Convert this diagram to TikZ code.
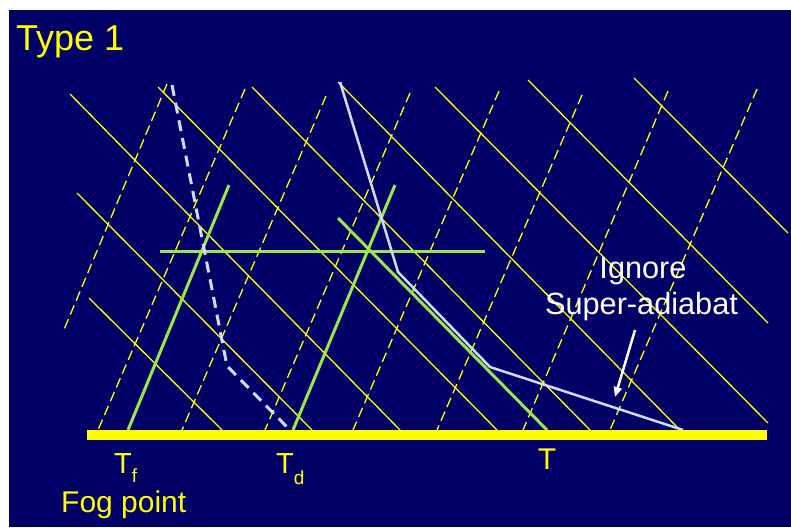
\documentclass[tikz,border=0pt]{standalone}
\usepackage{fontspec}
\setmainfont{Liberation Sans}
\usetikzlibrary{arrows.meta}
\definecolor{navy}{RGB}{0,0,102}
\definecolor{ylw}{RGB}{255,255,0}
\definecolor{grn}{RGB}{153,230,77}
\definecolor{lblue}{RGB}{204,221,255}
\begin{document}
\begin{tikzpicture}[x=1pt,y=-1pt,
  iso/.style={ylw,line width=1.3pt},
  moist/.style={ylw,line width=1.3pt,dash pattern=on 10pt off 5pt},
  gline/.style={grn,line width=3pt},
  sound/.style={lblue,line width=2.5pt,line join=round},
  dew/.style={lblue,line width=3pt,dash pattern=on 11pt off 7pt},
  lbl/.style={ylw,inner sep=0pt,font=\fontsize{29}{29}\selectfont},
  note/.style={white,inner sep=0pt,anchor=base,font=\fontsize{30.7}{30.7}\selectfont}]
\useasboundingbox (0,0) rectangle (791,527);
\fill[white] (0,0) rectangle (791,527);
\fill[navy] (9,10) rectangle (791,527);
% solid yellow lines
\draw[iso] (89,298) -- (222,430);
\draw[iso] (77,193) -- (312,430);
\draw[iso] (70,94) -- (400,430);
\draw[iso] (158,87) -- (497,430);
\draw[iso] (252,87) -- (590,430);
\draw[iso] (338,82) -- (680,430);
\draw[iso] (435,87) -- (768,423);
\draw[iso] (528,80) -- (768,323);
\draw[iso] (634,78) -- (788,233);
% dashed yellow lines
\draw[moist] (167,84) -- (63,332);
\draw[moist] (245,89) -- (98,430);
\draw[moist] (326,96) -- (182,430);
\draw[moist] (410,93) -- (265,430);
\draw[moist] (499,91) -- (353,430);
\draw[moist] (582,95) -- (437,430);
\draw[moist] (668,91) -- (523,430);
\draw[moist] (757,89) -- (610,430);
% green lines
\draw[gline] (229,185) -- (128,430);
\draw[gline] (395,185) -- (293,430);
\draw[gline] (160,251) -- (485,251);
\draw[gline] (338,218) -- (547,430);
% sounding and dew point
\draw[sound] (340,82) -- (398,272) -- (490,367) -- (683,430);
\draw[dew] (172,85) -- (227,366) -- (290,430);
% ground bar
\fill[ylw] (87,430) rectangle (767,440);
% arrow
\coordinate (atail) at (635,330);
\coordinate (ahead) at (615,397);
\draw[white,line width=2.5pt,-{Triangle[length=10pt,width=8pt]}] (atail) -- (ahead);
% labels
\node[ylw,inner sep=0pt,anchor=base west,font=\fontsize{36}{36}\selectfont] (title) at (16,50) {Type 1};
\node[lbl,anchor=base west] (tf) at (114,473) {T\raisebox{-9pt}{\fontsize{19}{19}\selectfont f}};
\node[lbl,anchor=base west] (td) at (276,473) {T\raisebox{-11pt}{\fontsize{19}{19}\selectfont d}};
\node[lbl,anchor=base,font=\fontsize{30}{30}\selectfont] (tt) at (547,469) {T};
\node[ylw,inner sep=0pt,anchor=base west,font=\fontsize{30}{30}\selectfont] (fog) at (61,512) {Fog point};
\node[note] (ign) at (643,278) {Ignore};
\node[note] (sup) at (641.5,314) {Super-adiabat};
\end{tikzpicture}
\end{document}
